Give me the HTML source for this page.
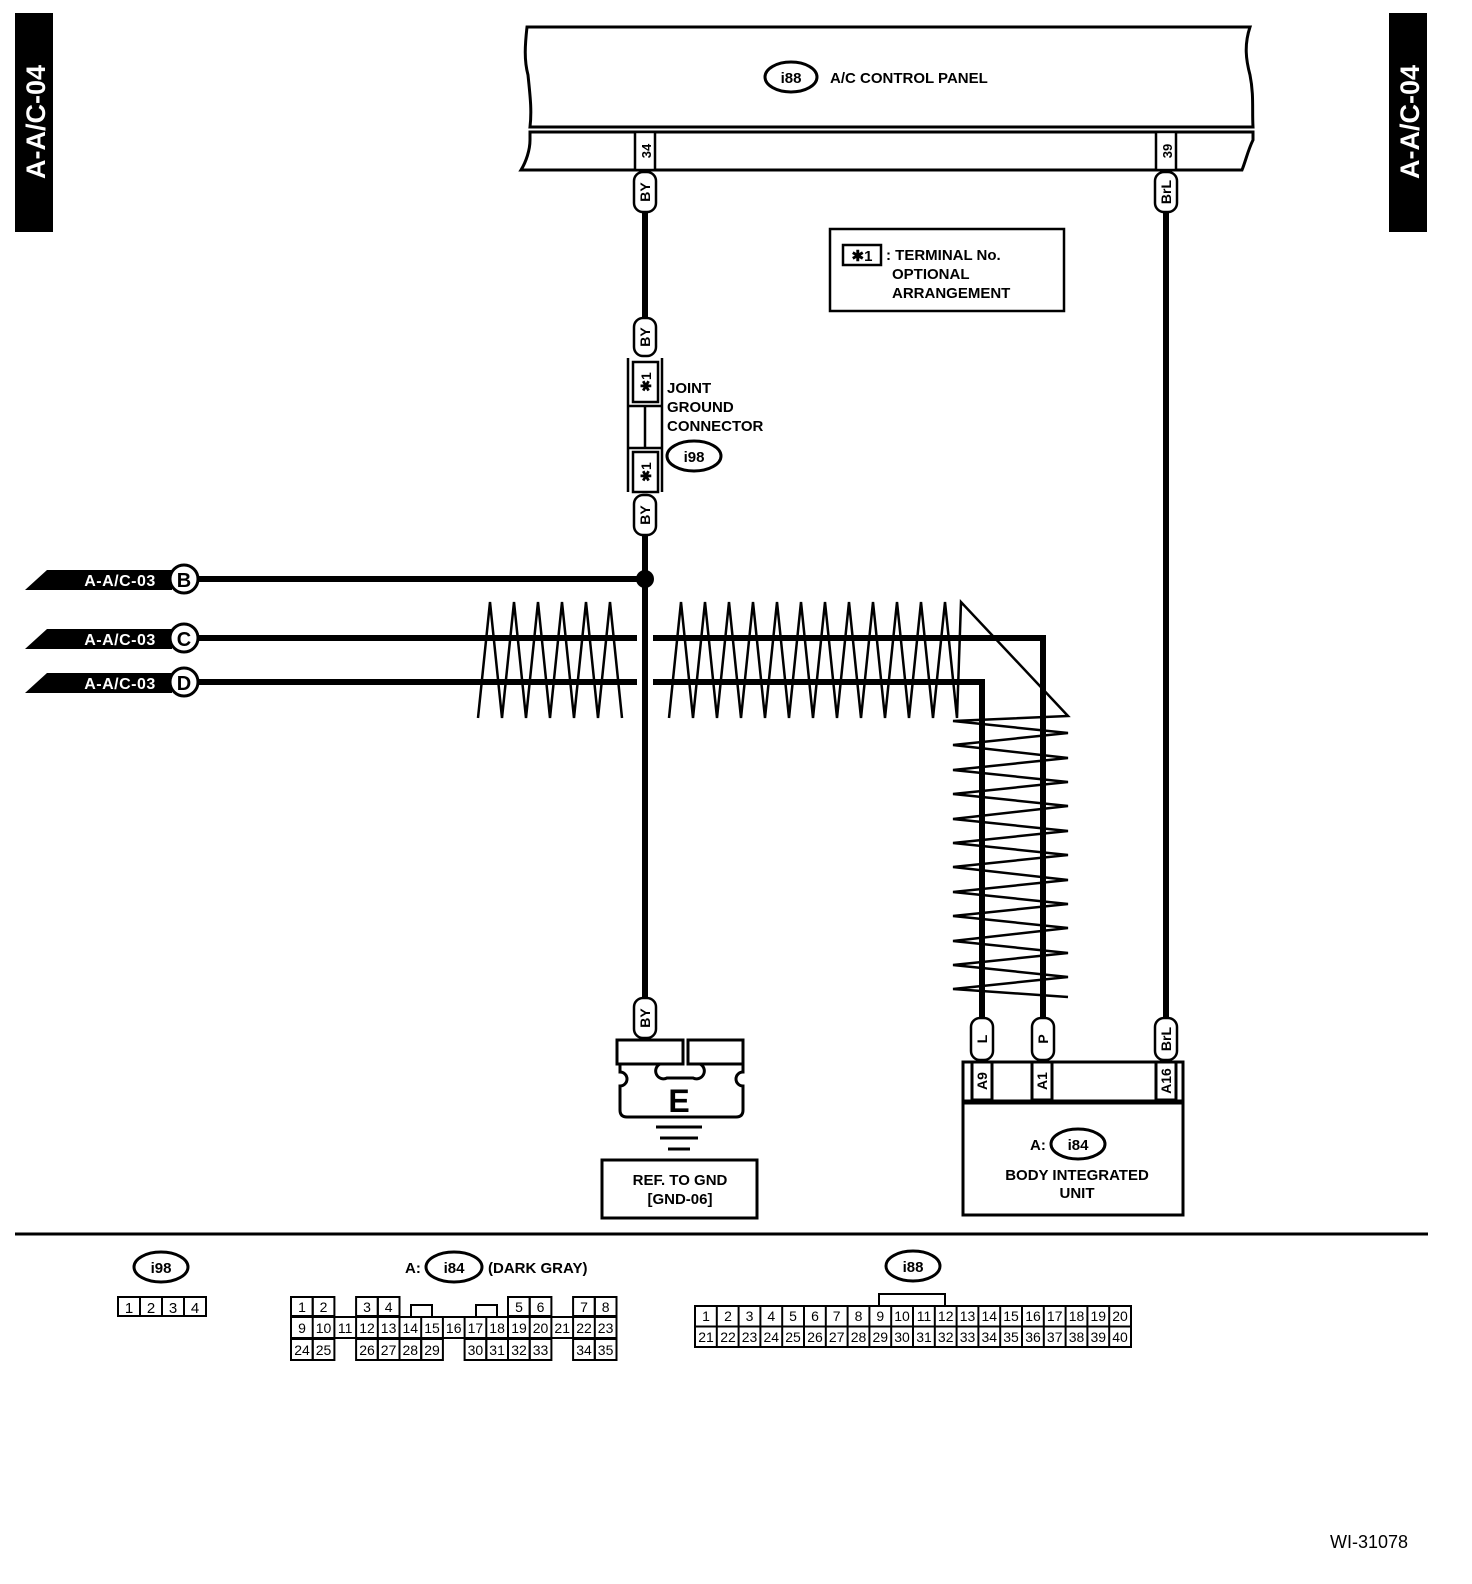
<!DOCTYPE html>
<html><head><meta charset="utf-8"><style>
html,body{margin:0;padding:0;background:#fff;overflow:hidden;width:1472px;height:1584px}
svg{display:block}
text{font-family:"Liberation Sans",sans-serif}
.b{font-weight:bold}
</style></head><body>
<svg width="1472" height="1584" viewBox="0 0 1472 1584" xmlns="http://www.w3.org/2000/svg">
<!-- side tabs -->
<rect x="15" y="13" width="38" height="219" fill="#000"/>
<text transform="translate(45,122) rotate(-90)" text-anchor="middle" fill="#fff" font-size="27" class="b">A-A/C-04</text>
<rect x="1389" y="13" width="38" height="219" fill="#000"/>
<text transform="translate(1419,122) rotate(-90)" text-anchor="middle" fill="#fff" font-size="27" class="b">A-A/C-04</text>

<!-- A/C control panel -->
<g fill="none" stroke="#000" stroke-width="3">
<path d="M527,27 L1250,27 C1244,45 1246,60 1250,75 C1254,95 1252,110 1253,127 L530,127 C532,110 530,95 528,75 C524,60 525,45 527,27 Z"/>
<path d="M530,132 L1253,132 L1253,140 C1248,150 1246,160 1242,170 L521,170 C526,162 530,150 530,140 Z"/>
</g>
<ellipse cx="791" cy="77" rx="26" ry="15" fill="#fff" stroke="#000" stroke-width="3"/>
<text x="791" y="83" text-anchor="middle" font-size="15" class="b">i88</text>
<text x="830" y="83" font-size="15" class="b">A/C CONTROL PANEL</text>
<rect x="635" y="132" width="20" height="38" fill="#fff" stroke="#000" stroke-width="2.5"/>
<text transform="translate(651,151) rotate(-90)" text-anchor="middle" font-size="13" class="b">34</text>
<rect x="1156" y="132" width="20" height="38" fill="#fff" stroke="#000" stroke-width="2.5"/>
<text transform="translate(1172,151) rotate(-90)" text-anchor="middle" font-size="13" class="b">39</text>

<!-- legend -->
<rect x="830" y="229" width="234" height="82" fill="none" stroke="#000" stroke-width="2.5"/>
<rect x="843" y="245" width="38" height="20" fill="none" stroke="#000" stroke-width="2.5"/>
<text x="862" y="261" text-anchor="middle" font-size="15" class="b">✱1</text>
<text x="886" y="260" font-size="15" class="b">: TERMINAL No.</text>
<text x="892" y="279" font-size="15" class="b">OPTIONAL</text>
<text x="892" y="298" font-size="15" class="b">ARRANGEMENT</text>

<!-- wires -->
<g stroke="#000" stroke-width="6" fill="none">
<line x1="645" y1="212" x2="645" y2="318"/>
<line x1="645" y1="535" x2="645" y2="998"/>
<line x1="1166" y1="212" x2="1166" y2="1018"/>
<line x1="198" y1="579" x2="645" y2="579"/>
<polyline points="198,638 637,638"/>
<polyline points="653,638 1043,638 1043,1018"/>
<polyline points="198,682 637,682"/>
<polyline points="653,682 982,682 982,1018"/>
</g>
<circle cx="645" cy="579" r="9" fill="#000"/>

<!-- twist marks -->
<g stroke="#000" stroke-width="2.5" fill="none">
<polyline points="478,718 490,602 502,718 514,602 526,718 538,602 550,718 562,602 574,718 586,602 598,718 610,602 622,718"/>
<polyline points="669,718 681,602 693,718 705,602 717,718 729,602 741,718 753,602 765,718 777,602 789,718 801,602 813,718 825,602 837,718 849,602 861,718 873,602 885,718 897,602 909,718 921,602 933,718 945,602 957,718 961,602 1068,716 953,721 1068,733 953,745 1068,758 953,770 1068,782 953,794 1068,806 953,819 1068,831 953,843 1068,855 953,867 1068,880 953,892 1068,904 953,916 1068,928 953,941 1068,953 953,965 1068,977 953,989 1068,997"/>
</g>

<!-- left off-page labels -->
<g>
<polygon points="25,590 47,570 172,570 172,590" fill="#000"/>
<text x="120" y="586" text-anchor="middle" fill="#fff" font-size="16" class="b" letter-spacing="0.5">A-A/C-03</text>
<circle cx="184" cy="579" r="14" fill="#fff" stroke="#000" stroke-width="3"/>
<text x="184" y="587" text-anchor="middle" font-size="20" class="b">B</text>
<polygon points="25,649 47,629 172,629 172,649" fill="#000"/>
<text x="120" y="645" text-anchor="middle" fill="#fff" font-size="16" class="b" letter-spacing="0.5">A-A/C-03</text>
<circle cx="184" cy="638" r="14" fill="#fff" stroke="#000" stroke-width="3"/>
<text x="184" y="646" text-anchor="middle" font-size="20" class="b">C</text>
<polygon points="25,693 47,673 172,673 172,693" fill="#000"/>
<text x="120" y="689" text-anchor="middle" fill="#fff" font-size="16" class="b" letter-spacing="0.5">A-A/C-03</text>
<circle cx="184" cy="682" r="14" fill="#fff" stroke="#000" stroke-width="3"/>
<text x="184" y="690" text-anchor="middle" font-size="20" class="b">D</text>
</g>

<!-- pills -->
<g fill="#fff" stroke="#000" stroke-width="2.5">
<rect x="634" y="172" width="22" height="40" rx="9"/>
<rect x="634" y="318" width="22" height="38" rx="9"/>
<rect x="634" y="495" width="22" height="40" rx="9"/>
<rect x="634" y="998" width="22" height="40" rx="9"/>
<rect x="1155" y="172" width="22" height="40" rx="9"/>
<rect x="1155" y="1018" width="22" height="42" rx="9"/>
<rect x="971" y="1018" width="22" height="42" rx="9"/>
<rect x="1032" y="1018" width="22" height="42" rx="9"/>
</g>
<g font-size="14" class="b" text-anchor="middle">
<text transform="translate(650,192) rotate(-90)" class="b">BY</text>
<text transform="translate(650,337) rotate(-90)" class="b">BY</text>
<text transform="translate(650,515) rotate(-90)" class="b">BY</text>
<text transform="translate(650,1018) rotate(-90)" class="b">BY</text>
<text transform="translate(1171,192) rotate(-90)" class="b">BrL</text>
<text transform="translate(1171,1039) rotate(-90)" class="b">BrL</text>
<text transform="translate(987,1039) rotate(-90)" class="b">L</text>
<text transform="translate(1048,1039) rotate(-90)" class="b">P</text>
</g>

<!-- joint connector -->
<g fill="none" stroke="#000" stroke-width="2.5">
<line x1="628" y1="358" x2="628" y2="492"/>
<line x1="662" y1="358" x2="662" y2="492"/>
<rect x="633" y="362" width="25" height="40"/>
<rect x="633" y="452" width="25" height="40"/>
<line x1="628" y1="406" x2="662" y2="406"/>
<line x1="628" y1="448" x2="662" y2="448"/>
<line x1="645" y1="406" x2="645" y2="448"/>
</g>
<text transform="translate(651,382) rotate(-90)" text-anchor="middle" font-size="14" class="b">✱1</text>
<text transform="translate(651,472) rotate(-90)" text-anchor="middle" font-size="14" class="b">✱1</text>
<text x="667" y="393" font-size="15" class="b">JOINT</text>
<text x="667" y="412" font-size="15" class="b">GROUND</text>
<text x="667" y="431" font-size="15" class="b">CONNECTOR</text>
<ellipse cx="694" cy="456" rx="27" ry="15" fill="#fff" stroke="#000" stroke-width="3"/>
<text x="694" y="462" text-anchor="middle" font-size="15" class="b">i98</text>

<!-- ground -->
<g fill="#fff" stroke="#000" stroke-width="3">
<rect x="617" y="1040" width="66" height="24"/>
<rect x="688" y="1040" width="55" height="24"/>
<path d="M620,1064 L620,1072 A7,7 0 0 1 620,1086 L620,1110 Q620,1117 627,1117 L736,1117 Q743,1117 743,1110 L743,1086 A7,7 0 0 1 743,1072 L743,1064 L700,1064 A7,7 0 0 1 693,1078 L667,1078 A7,7 0 0 1 660,1064 Z"/>
</g>
<text x="679" y="1112" text-anchor="middle" font-size="32" class="b">E</text>
<g stroke="#000" stroke-width="3">
<line x1="656" y1="1127" x2="702" y2="1127"/>
<line x1="660" y1="1138" x2="698" y2="1138"/>
<line x1="668" y1="1149" x2="690" y2="1149"/>
</g>
<rect x="602" y="1160" width="155" height="58" fill="none" stroke="#000" stroke-width="3"/>
<text x="680" y="1185" text-anchor="middle" font-size="15" class="b">REF. TO GND</text>
<text x="680" y="1204" text-anchor="middle" font-size="15" class="b">[GND-06]</text>

<!-- body integrated unit -->
<g fill="none" stroke="#000" stroke-width="3">
<rect x="963" y="1062" width="220" height="153"/>
<line x1="963" y1="1102" x2="1183" y2="1102" stroke-width="5"/>
<rect x="972" y="1062" width="20" height="38"/>
<rect x="1032" y="1062" width="20" height="38"/>
<rect x="1156" y="1062" width="20" height="38"/>
</g>
<g font-size="14" class="b" text-anchor="middle">
<text transform="translate(987,1081) rotate(-90)" class="b">A9</text>
<text transform="translate(1047,1081) rotate(-90)" class="b">A1</text>
<text transform="translate(1171,1081) rotate(-90)" class="b">A16</text>
</g>
<text x="1030" y="1150" font-size="15" class="b">A:</text>
<ellipse cx="1078" cy="1144" rx="27" ry="15" fill="#fff" stroke="#000" stroke-width="3"/>
<text x="1078" y="1150" text-anchor="middle" font-size="15" class="b">i84</text>
<text x="1077" y="1180" text-anchor="middle" font-size="15" class="b">BODY INTEGRATED</text>
<text x="1077" y="1198" text-anchor="middle" font-size="15" class="b">UNIT</text>

<!-- separator -->
<line x1="15" y1="1234" x2="1428" y2="1234" stroke="#000" stroke-width="3"/>

<!-- i98 connector -->
<ellipse cx="161" cy="1267" rx="27" ry="15" fill="#fff" stroke="#000" stroke-width="3"/>
<text x="161" y="1273" text-anchor="middle" font-size="15" class="b">i98</text>
<g fill="none" stroke="#000" stroke-width="2">
<rect x="118" y="1297" width="22" height="19"/><rect x="140" y="1297" width="22" height="19"/><rect x="162" y="1297" width="22" height="19"/><rect x="184" y="1297" width="22" height="19"/>
</g>
<g font-size="15" text-anchor="middle">
<text x="129" y="1313">1</text><text x="151" y="1313">2</text><text x="173" y="1313">3</text><text x="195" y="1313">4</text>
</g>

<!-- i84 connector -->
<text x="405" y="1273" font-size="15" class="b">A:</text>
<ellipse cx="454" cy="1267" rx="28" ry="15" fill="#fff" stroke="#000" stroke-width="3"/>
<text x="454" y="1273" text-anchor="middle" font-size="15" class="b">i84</text>
<text x="488" y="1273" font-size="15" class="b">(DARK GRAY)</text>
<g fill="none" stroke="#000" stroke-width="2">
<rect x="291" y="1297" width="21.7" height="19"/><rect x="312.7" y="1297" width="21.7" height="19"/>
<rect x="356.1" y="1297" width="21.7" height="19"/><rect x="377.8" y="1297" width="21.7" height="19"/>
<rect x="508" y="1297" width="21.7" height="19"/><rect x="529.7" y="1297" width="21.7" height="19"/>
<rect x="573.1" y="1297" width="21.7" height="19"/><rect x="594.8" y="1297" width="21.7" height="19"/>
<polyline points="411,1316 411,1305 432,1305 432,1316"/>
<polyline points="476,1316 476,1305 497,1305 497,1316"/>
<rect x="291" y="1317" width="325.5" height="21"/>
<rect x="291" y="1339" width="21.7" height="21"/><rect x="312.7" y="1339" width="21.7" height="21"/>
<rect x="356.1" y="1339" width="21.7" height="21"/><rect x="377.8" y="1339" width="21.7" height="21"/><rect x="399.5" y="1339" width="21.7" height="21"/><rect x="421.2" y="1339" width="21.7" height="21"/>
<rect x="464.6" y="1339" width="21.7" height="21"/><rect x="486.3" y="1339" width="21.7" height="21"/><rect x="508" y="1339" width="21.7" height="21"/><rect x="529.7" y="1339" width="21.7" height="21"/>
<rect x="573.1" y="1339" width="21.7" height="21"/><rect x="594.8" y="1339" width="21.7" height="21"/>
</g>
<g stroke="#000" stroke-width="2">
<line x1="312.7" y1="1317" x2="312.7" y2="1338"/><line x1="334.4" y1="1317" x2="334.4" y2="1338"/><line x1="356.1" y1="1317" x2="356.1" y2="1338"/><line x1="377.8" y1="1317" x2="377.8" y2="1338"/><line x1="399.5" y1="1317" x2="399.5" y2="1338"/><line x1="421.2" y1="1317" x2="421.2" y2="1338"/><line x1="442.9" y1="1317" x2="442.9" y2="1338"/><line x1="464.6" y1="1317" x2="464.6" y2="1338"/><line x1="486.3" y1="1317" x2="486.3" y2="1338"/><line x1="508" y1="1317" x2="508" y2="1338"/><line x1="529.7" y1="1317" x2="529.7" y2="1338"/><line x1="551.4" y1="1317" x2="551.4" y2="1338"/><line x1="573.1" y1="1317" x2="573.1" y2="1338"/><line x1="594.8" y1="1317" x2="594.8" y2="1338"/>
</g>
<g font-size="14" text-anchor="middle">
<text x="302" y="1312">1</text><text x="323.5" y="1312">2</text><text x="367" y="1312">3</text><text x="388.6" y="1312">4</text><text x="519" y="1312">5</text><text x="540.5" y="1312">6</text><text x="584" y="1312">7</text><text x="605.6" y="1312">8</text>
<text x="302" y="1333">9</text><text x="323.5" y="1333">10</text><text x="345.2" y="1333">11</text><text x="367" y="1333">12</text><text x="388.6" y="1333">13</text><text x="410.3" y="1333">14</text><text x="432" y="1333">15</text><text x="453.7" y="1333">16</text><text x="475.4" y="1333">17</text><text x="497.1" y="1333">18</text><text x="519" y="1333">19</text><text x="540.5" y="1333">20</text><text x="562.2" y="1333">21</text><text x="584" y="1333">22</text><text x="605.6" y="1333">23</text>
<text x="302" y="1355">24</text><text x="323.5" y="1355">25</text><text x="367" y="1355">26</text><text x="388.6" y="1355">27</text><text x="410.3" y="1355">28</text><text x="432" y="1355">29</text><text x="475.4" y="1355">30</text><text x="497.1" y="1355">31</text><text x="519" y="1355">32</text><text x="540.5" y="1355">33</text><text x="584" y="1355">34</text><text x="605.6" y="1355">35</text>
</g>

<!-- i88 connector -->
<ellipse cx="913" cy="1266" rx="27" ry="15" fill="#fff" stroke="#000" stroke-width="3"/>
<text x="913" y="1272" text-anchor="middle" font-size="15" class="b">i88</text>
<polyline points="879,1306 879,1294 945,1294 945,1306" fill="none" stroke="#000" stroke-width="2"/>
<rect x="695" y="1306" width="436" height="41" fill="none" stroke="#000" stroke-width="2"/>
<line x1="695" y1="1326.5" x2="1131" y2="1326.5" stroke="#000" stroke-width="2"/>
<g stroke="#000" stroke-width="2">
<line x1="716.8" y1="1306" x2="716.8" y2="1347"/><line x1="738.6" y1="1306" x2="738.6" y2="1347"/><line x1="760.4" y1="1306" x2="760.4" y2="1347"/><line x1="782.2" y1="1306" x2="782.2" y2="1347"/><line x1="804" y1="1306" x2="804" y2="1347"/><line x1="825.8" y1="1306" x2="825.8" y2="1347"/><line x1="847.6" y1="1306" x2="847.6" y2="1347"/><line x1="869.4" y1="1306" x2="869.4" y2="1347"/><line x1="891.2" y1="1306" x2="891.2" y2="1347"/><line x1="913" y1="1306" x2="913" y2="1347"/><line x1="934.8" y1="1306" x2="934.8" y2="1347"/><line x1="956.6" y1="1306" x2="956.6" y2="1347"/><line x1="978.4" y1="1306" x2="978.4" y2="1347"/><line x1="1000.2" y1="1306" x2="1000.2" y2="1347"/><line x1="1022" y1="1306" x2="1022" y2="1347"/><line x1="1043.8" y1="1306" x2="1043.8" y2="1347"/><line x1="1065.6" y1="1306" x2="1065.6" y2="1347"/><line x1="1087.4" y1="1306" x2="1087.4" y2="1347"/><line x1="1109.2" y1="1306" x2="1109.2" y2="1347"/>
</g>
<g font-size="14" text-anchor="middle">
<text x="706" y="1321">1</text><text x="728" y="1321">2</text><text x="749.5" y="1321">3</text><text x="771.3" y="1321">4</text><text x="793" y="1321">5</text><text x="815" y="1321">6</text><text x="836.7" y="1321">7</text><text x="858.5" y="1321">8</text><text x="880.3" y="1321">9</text><text x="902" y="1321">10</text><text x="924" y="1321">11</text><text x="945.7" y="1321">12</text><text x="967.5" y="1321">13</text><text x="989.3" y="1321">14</text><text x="1011" y="1321">15</text><text x="1033" y="1321">16</text><text x="1054.7" y="1321">17</text><text x="1076.5" y="1321">18</text><text x="1098.3" y="1321">19</text><text x="1120" y="1321">20</text>
<text x="706" y="1342">21</text><text x="728" y="1342">22</text><text x="749.5" y="1342">23</text><text x="771.3" y="1342">24</text><text x="793" y="1342">25</text><text x="815" y="1342">26</text><text x="836.7" y="1342">27</text><text x="858.5" y="1342">28</text><text x="880.3" y="1342">29</text><text x="902" y="1342">30</text><text x="924" y="1342">31</text><text x="945.7" y="1342">32</text><text x="967.5" y="1342">33</text><text x="989.3" y="1342">34</text><text x="1011" y="1342">35</text><text x="1033" y="1342">36</text><text x="1054.7" y="1342">37</text><text x="1076.5" y="1342">38</text><text x="1098.3" y="1342">39</text><text x="1120" y="1342">40</text>
</g>

<text x="1330" y="1548" font-size="18">WI-31078</text>
</svg>
</body></html>
